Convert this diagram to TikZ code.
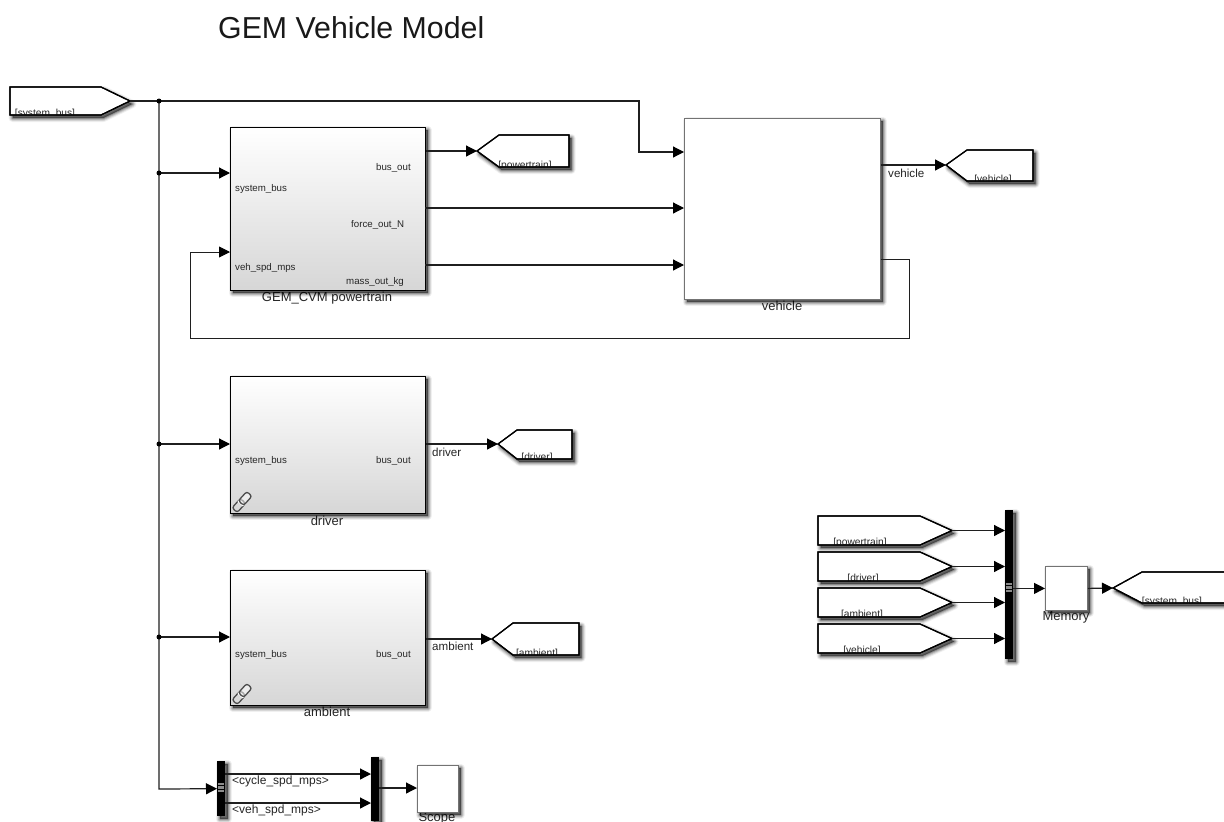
\documentclass[tikz,border=0pt]{standalone}
\usepackage{fontspec}
\setmainfont{Liberation Sans}
\usetikzlibrary{arrows.meta,shadings}
\newcommand\fsz[1]{\fontsize{#1}{#1}\selectfont}
\tikzset{
  x=1pt,y=-1pt,
  wire/.style={line width=1.2pt,draw=black!88},
  arr/.style={wire,-{Triangle[length=11pt,width=11pt,color=black]}},
  dotw/.style={circle,fill=black,inner sep=0pt,minimum size=5pt},
  subsys/.style={draw=black,line width=1.3pt,inner sep=0,anchor=north west,top color=white,bottom color=black!16},
  plain/.style={draw=black!55,line width=.8pt,inner sep=0,anchor=north west,fill=white},
  bar/.style={fill=black,inner sep=0,anchor=north west},
  port/.style={inner sep=0,text=black!85,font=\fsz{9.7}},
  sig/.style={inner sep=0,text=black!85,font=\fsz{11.6}},
  lbl/.style={inner sep=0,text=black!85,font=\fsz{13}},
  taglbl/.style={inner sep=0,text=black!85,font=\fsz{10.2}},
  tagline/.style={draw=black,line width=1.2pt,line join=miter,fill=white},
}
% soft shadow behind a path
\newcommand\softshadow[1]{%
  \begin{scope}[shift={(2.5,3)}]
    \draw[black,opacity=.06,line width=8pt,line join=round] #1;
    \draw[black,opacity=.10,line width=6pt,line join=round] #1;
    \draw[black,opacity=.14,line width=4pt,line join=round] #1;
    \draw[black,opacity=.20,line width=2pt,line join=round] #1;
    \fill[black,opacity=.5] #1;
  \end{scope}}
% rectangle block: name, x0, y0, x1, y1, style
\newcommand\blockbox[6]{%
  \softshadow{(#2,#3) rectangle (#4,#5)}
  \pgfmathsetmacro\bw{#4-#2}\pgfmathsetmacro\bh{#5-#3}
  \node[#6,minimum width=\bw pt,minimum height=\bh pt] (#1) at (#2,#3) {};}
% tag: name, polygon, tip, label pos, label text
\newcommand\tagblock[5]{%
  \softshadow{#2}
  \draw[tagline] #2;
  \begin{scope}\clip #2;
    \node[taglbl] (#1-t) at #4 {#5};
  \end{scope}
  \draw[tagline,fill=none] #2;
  \coordinate (#1) at #3;}
\newcommand\linkicon[2]{%
  \begin{scope}[shift={(#1,#2)},rotate=48]
    \draw[black!70,line width=1.3pt,rounded corners=2.5pt] (-11,-3.5) rectangle (1.5,3.5);
    \draw[white,line width=2.5pt] (-1.5,-3.5) -- (-1.5,3.5);
    \draw[black!70,line width=1.3pt,fill=white,fill opacity=.5,rounded corners=2.5pt] (-1.5,-3.5) rectangle (11,3.5);
  \end{scope}}
\newcommand\demuxmark[2]{%
  \foreach \d in {0,3.4,6.8} \fill[black!45] (#1,#2+\d) rectangle (#1+6,#2+\d+2.4);}
\begin{document}
\begin{tikzpicture}
\clip (0,0) rectangle (1224,822);
\fill[white] (0,0) rectangle (1224,822);

\node[inner sep=0,anchor=west,text=black!90,font=\fsz{30.3}] (title) at (218,28) {GEM Vehicle Model};

% block labels (drawn first, blocks overlap their tops)
\node[lbl] (pwl) at (327,298) {GEM\_CVM powertrain};
\node[lbl] (vel) at (782,306) {vehicle};
\node[lbl] (drl) at (327,521) {driver};
\node[lbl] (aml) at (327,712) {ambient};
\node[lbl] (scl) at (437,818) {Scope};
\node[lbl] (mel) at (1066,617) {Memory};

% blocks
\blockbox{pw}{230}{127}{425}{290}{subsys}
\blockbox{ve}{684}{118}{880}{299}{plain}
\blockbox{dr}{230}{376}{425}{513}{subsys}
\blockbox{am}{230}{570}{425}{705}{subsys}
\blockbox{sc}{417}{765}{458}{812}{plain}
\blockbox{me}{1045}{566}{1087}{610}{plain}
\blockbox{dm}{217}{761}{225}{816}{bar}
\blockbox{mx}{371}{757}{379}{821}{bar}
\blockbox{mb}{1005}{510}{1013}{659}{bar}
\demuxmark{218}{783}
\demuxmark{1006}{583}
\linkicon{242}{502}
\linkicon{242}{694}

% port labels
\node[port,anchor=west] (p1) at (235,189) {system\_bus};
\node[port,anchor=west] (p2) at (376,168) {bus\_out};
\node[port,anchor=west] (p3) at (351,225) {force\_out\_N};
\node[port,anchor=west] (p4) at (235,268) {veh\_spd\_mps};
\node[port,anchor=west] (p5) at (346,282) {mass\_out\_kg};
\node[port,anchor=west] (p6) at (235,461) {system\_bus};
\node[port,anchor=west] (p7) at (376,461) {bus\_out};
\node[port,anchor=west] (p8) at (235,655) {system\_bus};
\node[port,anchor=west] (p9) at (376,655) {bus\_out};

% tags
\tagblock{gsys}{(10,87)--(101,87)--(130,101)--(101,115)--(10,115)--cycle}{(130,101)}{(45,114)}{[system\_bus]}
\tagblock{gpw}{(477,151)--(499,135)--(569,135)--(569,167)--(499,167)--cycle}{(477,151)}{(525,166)}{[powertrain]}
\tagblock{gve}{(946,165)--(967,150)--(1033,150)--(1033,181)--(967,181)--cycle}{(946,165)}{(993,180)}{[vehicle]}
\tagblock{gdr}{(498,444)--(517,430)--(572,430)--(572,459)--(517,459)--cycle}{(498,444)}{(537,458)}{[driver]}
\tagblock{gam}{(492,639)--(513,623)--(579,623)--(579,655)--(513,655)--cycle}{(492,639)}{(537,654)}{[ambient]}
\tagblock{fpw}{(818,516)--(920,516)--(952,530.5)--(920,545)--(818,545)--cycle}{(952,530.5)}{(860,543)}{[powertrain]}
\tagblock{fdr}{(818,552)--(920,552)--(952,566.5)--(920,581)--(818,581)--cycle}{(952,566.5)}{(863,579)}{[driver]}
\tagblock{fam}{(818,588)--(920,588)--(952,602.5)--(920,617)--(818,617)--cycle}{(952,602.5)}{(862,615)}{[ambient]}
\tagblock{fve}{(818,624)--(920,624)--(952,638.5)--(920,653)--(818,653)--cycle}{(952,638.5)}{(862,651)}{[vehicle]}
\tagblock{gms}{(1113,588)--(1142,572)--(1240,572)--(1240,603)--(1142,603)--cycle}{(1113,588)}{(1172,602)}{[system\_bus]}

% connectors
\coordinate (j1) at (159,101);
\coordinate (j2) at (159,173);
\coordinate (j3) at (159,444);
\coordinate (j4) at (159,637);
\draw[arr] (gsys) -- (639,101) -- (639,152) -- (ve.west |- 0,152);
\draw[arr] (j1) -- (159,789) -- (dm.west);
\draw[arr] (j2) -- (pw.west |- j2);
\draw[arr] (j3) -- (dr.west |- j3);
\draw[arr] (j4) -- (am.west |- j4);
\foreach \j in {j1,j2,j3,j4} \node[dotw] at (\j) {};

\draw[arr] (pw.east |- gpw) -- (gpw);
\draw[arr] (425,208) -- (ve.west |- 0,208);
\draw[arr] (425,265) -- (ve.west |- 0,265);
\draw[arr,line width=.95pt] (ve.east |- 0,259) -- (909,259) -- (909,338) -- (190,338) -- (190,252) -- (pw.west |- 0,252);
\draw[arr] (ve.east |- gve) -- (gve);
\draw[arr] (dr.east |- gdr) -- (gdr);
\draw[arr] (am.east |- gam) -- (gam);

\draw[arr] (225,774) -- (mx.west |- 0,774);
\draw[arr] (225,803) -- (mx.west |- 0,803);
\draw[arr] (379,788) -- (sc.west |- 0,788);

\draw[arr] (fpw) -- (mb.west |- fpw);
\draw[arr] (fdr) -- (mb.west |- fdr);
\draw[arr] (fam) -- (mb.west |- fam);
\draw[arr] (fve) -- (mb.west |- fve);
\draw[arr] (mb.east |- me.west) -- (me.west);
\draw[arr] (me.east) -- (gms);

% signal labels
\node[sig,anchor=west] (s1) at (888,173) {vehicle};
\node[sig,anchor=west] (s2) at (432,452) {driver};
\node[sig,anchor=west] (s3) at (432,646) {ambient};
\node[sig,anchor=west,font=\fsz{12}] (s4) at (232,781) {<cycle\_spd\_mps>};
\node[sig,anchor=west,font=\fsz{12}] (s5) at (232,810) {<veh\_spd\_mps>};
\end{tikzpicture}
\end{document}
